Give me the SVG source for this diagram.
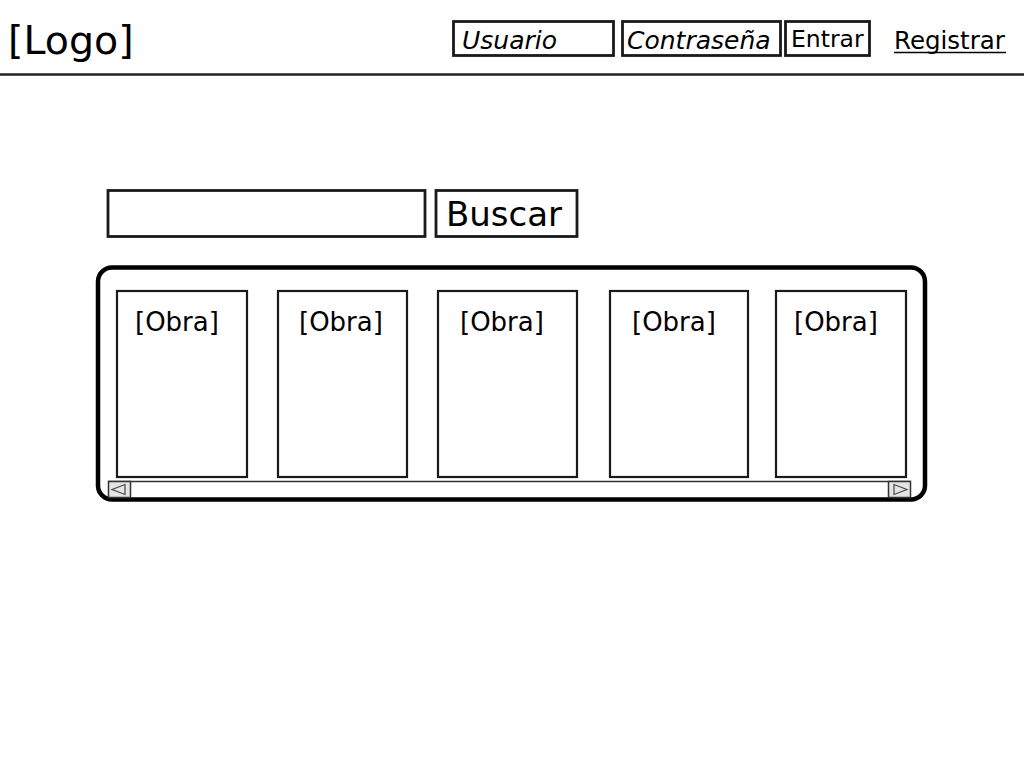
<svg xmlns="http://www.w3.org/2000/svg" width="1024" height="768" viewBox="0 0 1024 768">
<style>
text{font-family:"DejaVu Sans","Liberation Sans",sans-serif;fill:#000}
.box{fill:#fff;stroke:#1a1a1a;stroke-width:2.8}
.card{fill:#fff;stroke:#1a1a1a;stroke-width:2.2}
.obra{font-size:26px}
.btn{fill:#e4e4e4;stroke:#333;stroke-width:1.5}
.tri{fill:none;stroke:#444;stroke-width:1.2}
</style>
<rect width="1024" height="768" fill="#fff"/>
<g id="header">
<text x="8" y="54" font-size="39.5">[Logo]</text>
<line x1="0" y1="74.5" x2="1024" y2="74.5" stroke="#222" stroke-width="2.5"/>
</g>
<g id="usuario">
<rect class="box" x="453.5" y="21.5" width="160" height="34"/>
<text x="462" y="49" font-size="25" font-style="italic">Usuario</text>
</g>
<g id="contrasena">
<rect class="box" x="622.5" y="21.5" width="158" height="34"/>
<text x="627" y="49" font-size="25" font-style="italic">Contraseña</text>
</g>
<g id="entrar">
<rect class="box" x="785.5" y="21.5" width="84" height="34"/>
<text x="791" y="47" font-size="23.5">Entrar</text>
</g>
<g id="registrar">
<text x="894" y="49" font-size="24.5">Registrar</text>
<line x1="894" y1="52.5" x2="1006" y2="52.5" stroke="#000" stroke-width="1.5"/>
</g>
<g id="search">
<rect class="box" x="108" y="190.5" width="317" height="46"/>
</g>
<g id="buscar">
<rect class="box" x="436" y="190.5" width="141" height="46"/>
<text x="446" y="226" font-size="34">Buscar</text>
</g>
<g id="carousel">
<rect x="98" y="267.5" width="827" height="232" rx="14" ry="14" fill="#fff" stroke="#000" stroke-width="4.5"/>
</g>
<g id="obra1"><rect class="card" x="117" y="291" width="130" height="186"/><text class="obra" x="135" y="331">[Obra]</text></g>
<g id="obra2"><rect class="card" x="278" y="291" width="129" height="186"/><text class="obra" x="299" y="331">[Obra]</text></g>
<g id="obra3"><rect class="card" x="438" y="291" width="139" height="186"/><text class="obra" x="460" y="331">[Obra]</text></g>
<g id="obra4"><rect class="card" x="610" y="291" width="138" height="186"/><text class="obra" x="632" y="331">[Obra]</text></g>
<g id="obra5"><rect class="card" x="776" y="291" width="130" height="186"/><text class="obra" x="794" y="331">[Obra]</text></g>
<g id="scrollbar">
<line x1="108" y1="481.5" x2="911" y2="481.5" stroke="#333" stroke-width="1.5"/>
<rect class="btn" x="108.5" y="481.5" width="22" height="16"/>
<path class="tri" d="M112 489.5 L125 484.5 L125 494.5 Z"/>
<rect class="btn" x="888.5" y="481.5" width="22" height="16"/>
<path class="tri" d="M907 489.5 L894 484.5 L894 494.5 Z"/>
</g>
<g id="connectors"></g>
</svg>
